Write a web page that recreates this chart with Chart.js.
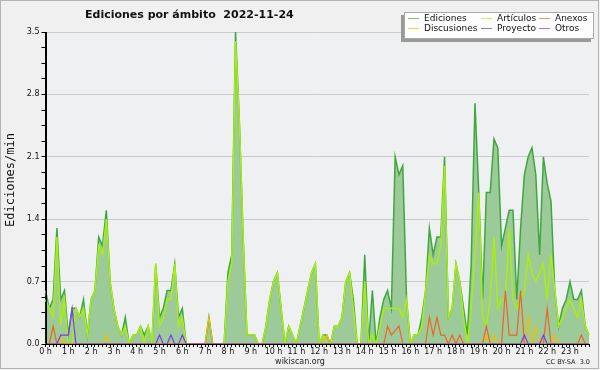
<!DOCTYPE html>
<html><head><meta charset="utf-8">
<script src="https://cdn.jsdelivr.net/npm/chart.js@4/dist/chart.umd.min.js"></script>
<style>html,body{margin:0;padding:0;background:#f0f0f0;}canvas{display:block}</style>
</head><body>
<canvas id="c" width="600" height="370"></canvas>
<script>
const hourLabels = ['0 h','1 h','2 h','3 h','4 h','5 h','6 h','7 h','8 h','9 h','10 h','11 h','12 h','13 h','14 h','15 h','16 h','17 h','18 h','19 h','20 h','21 h','22 h','23 h'];
const minuteSteps = ['00','10','20','30','40','50'];
const yTickLabels = [0.0, 0.7, 1.4, 2.1, 2.8, 3.5];

const ediciones = [
0.6,0.4,0.5,1.3,0.5,0.6, 0.1,0.4,0.4,0.3,0.5,0.1, 0.5,0.6,1.2,1.1,1.5,0.7, 0.4,0.2,0.1,0.3,0.0,0.1,
0.1,0.2,0.1,0.2,0.0,0.9, 0.3,0.4,0.6,0.6,0.9,0.3, 0.4,0.0,0.0,0.0,0.0,0.0, 0.0,0.3,0.0,0.0,0.0,0.0,
0.8,1.0,3.5,2.5,1.2,0.1, 0.1,0.1,0.0,0.0,0.2,0.5, 0.7,0.8,0.4,0.0,0.2,0.1, 0.0,0.2,0.4,0.6,0.8,0.9,
0.0,0.1,0.1,0.0,0.2,0.2, 0.3,0.7,0.8,0.5,0.0,0.0, 1.0,0.0,0.6,0.0,0.3,0.5, 0.6,0.4,2.1,1.9,2.0,0.5,
0.0,0.1,0.1,0.3,0.6,1.3, 1.0,1.2,1.2,2.1,0.3,0.4, 0.9,0.7,0.4,0.1,0.9,2.7, 1.7,0.5,1.7,1.7,2.3,2.2,
1.1,1.3,1.5,1.5,0.5,1.3, 1.9,2.1,2.2,1.9,1.0,2.1, 1.8,1.6,0.6,0.2,0.4,0.5, 0.7,0.5,0.5,0.6,0.2,0.1];

const articulos = [
0.5,0.4,0.3,1.2,0.2,0.5, 0.0,0.0,0.4,0.3,0.4,0.1, 0.5,0.6,1.1,1.0,1.4,0.7, 0.4,0.2,0.1,0.2,0.0,0.1,
0.1,0.2,0.0,0.2,0.0,0.9, 0.2,0.3,0.5,0.5,0.9,0.2, 0.3,0.0,0.0,0.0,0.0,0.0, 0.0,0.0,0.0,0.0,0.0,0.0,
0.7,0.9,3.4,2.5,1.2,0.1, 0.1,0.1,0.0,0.0,0.2,0.5, 0.7,0.8,0.4,0.0,0.2,0.1, 0.0,0.2,0.4,0.6,0.8,0.9,
0.0,0.1,0.0,0.0,0.2,0.2, 0.3,0.7,0.8,0.4,0.0,0.0, 0.7,0.0,0.1,0.0,0.2,0.4, 0.4,0.4,0.4,0.4,0.3,0.5,
0.0,0.1,0.1,0.2,0.6,1.0, 0.9,0.9,1.1,2.0,0.3,0.4, 0.9,0.7,0.3,0.0,0.4,1.0, 1.7,0.3,0.2,0.5,1.2,0.4,
0.5,0.5,1.3,0.5,0.4,0.5, 0.6,1.0,0.8,0.7,0.8,0.9, 0.5,1.0,0.6,0.2,0.3,0.4, 0.5,0.4,0.3,0.5,0.2,0.1];

const anexos = [
0,0,0.2,0,0,0, 0,0,0,0,0,0, 0,0,0,0,0,0, 0,0,0,0,0,0,
0,0,0,0,0,0, 0,0,0,0,0,0, 0,0,0,0,0,0, 0,0,0,0,0,0,
0,0,0,0,0,0, 0,0,0,0,0,0, 0,0,0,0,0,0, 0,0,0,0,0,0,
0,0,0,0,0,0, 0,0,0,0,0,0, 0,0,0,0,0,0, 0.2,0.1,0.15,0.2,0,0,
0,0,0,0,0,0.3, 0.1,0.3,0.1,0.1,0,0.1, 0,0.1,0,0,0,0, 0,0,0.2,0,0,0,
0,0.6,0.1,0.1,0.1,0.6, 0,0,0,0,0,0, 0.4,0,0,0,0,0, 0,0,0,0.1,0,0];

const discusiones = [
0,0,0,0,0.1,0, 0,0,0,0,0,0, 0,0,0,0,0.1,0, 0,0,0,0,0,0,
0,0,0,0,0,0, 0,0,0,0,0,0, 0,0,0,0,0,0, 0,0.3,0,0,0,0,
0,0,0,0,0,0, 0,0,0,0,0,0, 0,0,0,0,0,0, 0,0,0,0,0,0,
0,0,0.1,0,0,0, 0,0,0,0,0,0, 0,0,0,0,0,0, 0,0,0,0,0,0,
0,0,0,0,0,0, 0,0,0,0,0,0, 0,0,0,0,0,0, 0,0,0.1,0,0.1,0,
0,0,0,0,0,0, 0,0.3,0,0.2,0,0, 0,0,0.1,0,0,0, 0,0,0,0,0,0];

const proyecto = [
0,0,0,0,0,0, 0,0,0,0,0,0, 0,0,0,0,0,0, 0,0,0,0,0,0,
0,0,0,0,0,0, 0,0,0,0,0,0, 0,0,0,0,0,0, 0,0,0,0,0,0,
0,0,0,0,0,0, 0,0,0,0,0,0, 0,0,0,0,0,0, 0,0,0,0,0,0,
0,0,0,0,0,0, 0,0,0,0,0,0, 0,0,0,0,0,0, 0,0,0,0,0,0,
0,0,0,0,0,0, 0,0,0,0,0,0, 0,0,0,0,0,0, 0,0,0,0,0,0,
0,0,0,0,0,0, 0,0,0,0,0,0, 0,0,0,0,0,0, 0,0,0,0,0,0];

const otros = [
0,0,0,0,0.1,0.1, 0.1,0.4,0,0,0,0, 0,0,0,0,0,0, 0,0,0,0,0,0,
0,0,0,0,0,0, 0.1,0,0,0.1,0,0, 0.1,0,0,0,0,0, 0,0,0,0,0,0,
0,0,0,0,0,0, 0,0,0,0,0,0, 0,0,0,0,0,0, 0,0,0,0,0,0,
0,0,0,0,0,0, 0,0,0,0,0,0, 0,0,0,0,0,0, 0,0,0,0,0,0,
0,0,0,0,0,0, 0,0,0,0,0,0, 0,0,0,0,0,0, 0,0,0,0,0,0,
0,0,0,0,0,0, 0.1,0,0,0,0,0.1, 0,0,0,0,0,0, 0,0,0,0,0,0];

const categories = [];
for (let h = 0; h < 24; h++) for (const m of minuteSteps) categories.push(h + ':' + m);

const COL = {
  ed: '#3ea83e', edFill: 'rgb(156,202,152)', art: '#aaee11', anx: '#ee6622',
  disc: '#f0c000', proy: '#555555', otros: '#7a3cf0'
};

const legendItems = [
  ['Ediciones', COL.ed, 0, 0], ['Artículos', COL.art, 1, 0], ['Anexos', COL.anx, 2, 0],
  ['Discusiones', COL.disc, 0, 1], ['Proyecto', COL.proy, 1, 1], ['Otros', COL.otros, 2, 1]
];

const deco = {
  id: 'deco',
  beforeDraw(c) {
    const {ctx, chartArea: a} = c;
    ctx.save();
    ctx.fillStyle = '#f0f0f0';
    ctx.fillRect(0, 0, c.width, c.height);
    ctx.fillStyle = '#eef0f2';
    ctx.fillRect(a.left, a.top, a.right - a.left, a.bottom - a.top);
    ctx.restore();
  },
  afterDatasetsDraw(c) {
    const {ctx, chartArea: a} = c;
    ctx.save();
    ctx.strokeStyle = '#000'; ctx.lineWidth = 1;
    ctx.beginPath();
    const yb = Math.round(a.bottom) + 0.5, xl = Math.round(a.left) + 0.5;
    ctx.moveTo(xl, a.top); ctx.lineTo(xl, yb);
    ctx.lineTo(a.right, yb);
    ctx.stroke();
    ctx.restore();
  },
  afterDraw(c) {
    const ctx = c.ctx;
    ctx.save();
    ctx.strokeStyle = '#b4b4b4'; ctx.lineWidth = 1;
    ctx.strokeRect(0.5, 0.5, 598, 368);
    ctx.fillStyle = '#111';
    ctx.font = 'bold 11px "DejaVu Sans"';
    ctx.textBaseline = 'alphabetic'; ctx.textAlign = 'left';
    ctx.fillText('Ediciones por ámbito  2022-11-24', 85, 18);
    ctx.save();
    ctx.translate(11, 180); ctx.rotate(-Math.PI / 2);
    ctx.font = '12px "DejaVu Sans Mono"'; ctx.textAlign = 'center'; ctx.textBaseline = 'middle';
    ctx.fillText('Ediciones/min', 0, 0);
    ctx.restore();
    ctx.font = '8px "DejaVu Sans"'; ctx.textAlign = 'center'; ctx.textBaseline = 'alphabetic';
    ctx.fillStyle = '#222';
    ctx.fillText('wikiscan.org', 300, 364);
    ctx.font = '6.5px "DejaVu Sans"'; ctx.textAlign = 'right';
    ctx.fillText('CC BY-SA  3.0', 590, 364);
    ctx.fillStyle = '#999';
    ctx.fillRect(401, 15, 190, 27);
    ctx.fillStyle = '#fdfdfd';
    ctx.fillRect(404, 12, 190, 27);
    ctx.strokeStyle = '#a8a8a8';
    ctx.strokeRect(404.5, 12.5, 189, 26);
    const swX = [408, 481, 539], txX = [424, 497, 555], rowY = [18.5, 28.5];
    ctx.font = '9px "DejaVu Sans"'; ctx.textAlign = 'left'; ctx.textBaseline = 'middle';
    for (const [lab, col, cx, ry] of legendItems) {
      ctx.strokeStyle = col; ctx.globalAlpha = 0.7;
      ctx.beginPath(); ctx.moveTo(swX[cx], rowY[ry]); ctx.lineTo(swX[cx] + 11, rowY[ry]); ctx.stroke();
      ctx.globalAlpha = 1;
      ctx.fillStyle = '#111';
      ctx.fillText(lab, txX[cx], rowY[ry] + 0.5);
    }
    ctx.restore();
  }
};

const ds = (label, data, color, width, order, extra) => Object.assign({
  label, data, borderColor: color, backgroundColor: color, borderWidth: width,
  pointRadius: 0, tension: 0, fill: false, order
}, extra || {});

new Chart(document.getElementById('c'), {
  type: 'line',
  data: {
    labels: categories,
    datasets: [
      ds('Ediciones', ediciones, COL.ed, 1.5, 6, {fill: 'origin', backgroundColor: COL.edFill}),
      ds('Artículos', articulos, COL.art, 1.5, 5),
      ds('Proyecto', proyecto, COL.proy, 1, 4),
      ds('Discusiones', discusiones, COL.disc, 1.2, 3),
      ds('Anexos', anexos, COL.anx, 1.2, 2),
      ds('Otros', otros, COL.otros, 1.2, 1)
    ]
  },
  options: {
    responsive: false, animation: false, devicePixelRatio: 1,
    layout: {padding: {left: 0, right: 11, top: 32, bottom: 0}},
    plugins: {legend: {display: false}, title: {display: false}, tooltip: {enabled: false}},
    scales: {
      x: {
        type: 'category', offset: false,
        grid: {display: true, drawOnChartArea: false, drawTicks: true, tickLength: 3, tickColor: '#000', color: '#000'},
        border: {display: true, color: '#000'},
        ticks: {
          autoSkip: false, maxRotation: 0, minRotation: 0, padding: 0,
          font: {family: 'DejaVu Sans', size: 8}, color: '#111',
          callback: (v, i) => (i % 6 === 0 ? hourLabels[i / 6] : '')
        },
        afterFit: s => { s.height = 26; }
      },
      y: {
        min: 0, max: 3.5,
        grid: {
          drawTicks: true, tickLength: 4, tickColor: '#000',
          color: ctx => {
            const k = Math.round(ctx.tick.value / 0.175);
            return (k % 4 === 0 && k > 0) ? '#cccccc' : 'rgba(0,0,0,0)';
          }
        },
        border: {display: true, color: '#000'},
        ticks: {
          stepSize: 0.175, autoSkip: false, padding: 2,
          font: {family: 'DejaVu Sans', size: 8}, color: '#111',
          callback: v => {
            const k = Math.round(v / 0.175);
            return k % 4 === 0 ? yTickLabels[k / 4].toFixed(1) : '';
          }
        },
        afterFit: s => { s.width = 45.5; }
      }
    }
  },
  plugins: [deco]
});
</script>
</body></html>
